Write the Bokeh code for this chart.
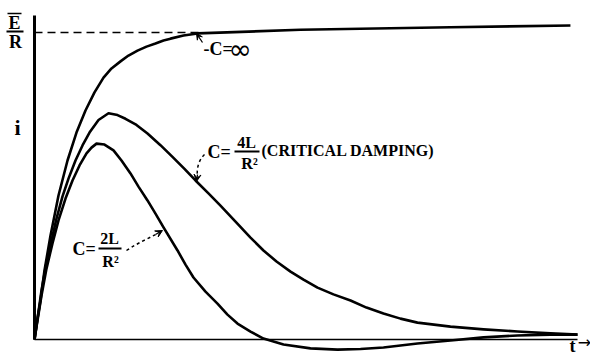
from bokeh.plotting import figure
from bokeh.models import Label, Arrow, VeeHead, Range1d
from bokeh.embed import file_html
from bokeh.resources import INLINE

# ---- data (t arbitrary units, i relative to E/R) ----
E_over_R = 1.0
t_max = 10.0

t_inf = [0, 0.055, 0.11, 0.184, 0.295, 0.442, 0.608, 0.773, 0.939, 1.105, 1.271, 1.418, 1.584,
         1.731, 1.897, 2.063, 2.228, 2.376, 2.505, 2.744, 3.002, 4.90, 7.66, 9.87]
i_inf = [0, 0.068, 0.127, 0.225, 0.339, 0.469, 0.583, 0.674, 0.746, 0.805, 0.853, 0.883, 0.906,
         0.925, 0.941, 0.954, 0.964, 0.974, 0.980, 0.990, 0.997, 1.009, 1.017, 1.023]

t_crit = [0, 0.055, 0.129, 0.221, 0.313, 0.405, 0.516, 0.626, 0.755, 0.884, 1.013, 1.179, 1.363,
          1.529, 1.676, 1.878, 2.081, 2.320, 2.541, 2.762, 2.965, 3.204, 3.425, 3.702, 3.978,
          4.217, 4.457, 4.715, 4.954, 5.212, 5.506, 5.820, 6.114, 6.427, 6.740, 7.053, 7.661,
          8.269, 8.895, 9.503, 10.0]
i_crit = [0, 0.068, 0.160, 0.251, 0.322, 0.394, 0.466, 0.524, 0.583, 0.632, 0.674, 0.715, 0.737,
          0.731, 0.719, 0.699, 0.671, 0.633, 0.595, 0.556, 0.518, 0.476, 0.436, 0.384, 0.332,
          0.290, 0.254, 0.221, 0.195, 0.169, 0.147, 0.127, 0.104, 0.085, 0.068, 0.055, 0.042,
          0.033, 0.026, 0.020, 0.016]

t_2l = [0, 0.055, 0.129, 0.221, 0.331, 0.442, 0.571, 0.700, 0.829, 0.958, 1.050, 1.142, 1.289,
        1.455, 1.602, 1.768, 1.915, 2.081, 2.228, 2.376, 2.634, 2.781, 2.928, 3.149, 3.370,
        3.554, 3.738, 3.978, 4.217, 4.586, 5.083, 5.580, 6.004, 6.427, 7.053, 7.661, 8.269,
        8.895, 9.503, 10.0]
i_2l = [0, 0.062, 0.143, 0.231, 0.313, 0.388, 0.459, 0.518, 0.567, 0.606, 0.625, 0.638, 0.635,
        0.616, 0.583, 0.541, 0.498, 0.453, 0.410, 0.365, 0.290, 0.244, 0.202, 0.156, 0.117,
        0.081, 0.052, 0.026, 0.003, -0.016, -0.029, -0.033, -0.031, -0.026, -0.013, -0.003, 0.007,
        0.013, 0.016, 0.016]

# ---- layout helpers: image pixel -> data ----
W, H = 590, 354
X0, SX = 34.0, 54.3
Y0, SY = 339.0, 307.0
def tx(px):
    return (px - X0) / SX
def iy(py):
    return (Y0 - py) / SY

FONT = "Liberation Sans Narrow"

p = figure(width=W, height=H, output_backend="svg", toolbar_location=None,
           x_range=Range1d(tx(0), tx(W)), y_range=Range1d(iy(H), iy(0)),
           x_axis_type=None, y_axis_type=None, min_border=0,
           background_fill_color="white", border_fill_color="white")
p.grid.visible = False
p.outline_line_color = None

# axes
p.line([0, 0], [0, iy(15)], line_color="black", line_width=3)
p.line([0, t_max], [0, 0], line_color="black", line_width=1.5)
# asymptote E/R
p.line([0, tx(198)], [E_over_R, E_over_R], line_color="black", line_width=1.5, line_dash="8 5")

# curves
for tt, ii in [(t_inf, i_inf), (t_crit, i_crit), (t_2l, i_2l)]:
    p.line(tt, ii, line_color="black", line_width=2.6, line_join="round")

def lab(text, x, y, size, align="left", bold=True, font=FONT):
    p.add_layout(Label(x=tx(x), y=iy(y), text=text, text_font=font,
                       text_font_size=f"{size}px", text_font_style="bold" if bold else "normal",
                       text_align=align, text_baseline="middle", text_color="black"))

def seg(x0, y0, x1, y1, w=1.5, dash="solid"):
    p.segment(tx(x0), iy(y0), tx(x1), iy(y1), line_color="black", line_width=w, line_dash=dash)

def head(x0, y0, x1, y1, size=7):
    p.add_layout(Arrow(end=VeeHead(size=size, fill_color="black", line_color="black", line_width=1),
                       x_start=tx(x0), y_start=iy(y0), x_end=tx(x1), y_end=iy(y1),
                       line_color="black", line_width=1.3))

# E/R
lab("E", 14, 22, 18, "center")
seg(7, 13, 21, 13, 1.5)
seg(6, 31, 23, 31, 2)
lab("R", 15, 41, 18, "center")
# i
lab("i", 17, 127, 22, "center")
# t ->
lab("t", 572, 345, 18, "center")
lab("→", 584, 342, 16, "center", bold=False, font="DejaVu Sans")

# C = infinity
lab("-C=", 203, 48, 18)
lab("∞", 228, 49, 28, bold=False, font="DejaVu Sans")
head(202, 42, 196, 33, 6)

# critical damping
lab("C=", 207, 151, 18)
lab("4L", 246, 142, 16, "center")
seg(234, 151, 259, 151, 1.8)
lab("R²", 249, 163, 16, "center")
lab("(CRITICAL DAMPING)", 261, 150, 16)
p.bezier(x0=[tx(204)], y0=[iy(154)], x1=[tx(197)], y1=[iy(176)],
         cx0=[tx(198)], cy0=[iy(160)], cx1=[tx(196)], cy1=[iy(168)],
         line_color="black", line_width=1.5, line_dash="3 3")
head(197, 174, 196, 181, 7)

# 2L/R^2
lab("C=", 72, 248, 18)
lab("2L", 109, 238, 16, "center")
seg(98, 248, 121, 248, 1.8)
lab("R²", 110, 261, 16, "center")
p.bezier(x0=[tx(126)], y0=[iy(250)], x1=[tx(157)], y1=[iy(233)],
         cx0=[tx(138)], cy0=[iy(242)], cx1=[tx(148)], cy1=[iy(238)],
         line_color="black", line_width=1.5, line_dash="3 3")
head(155, 234, 162, 230, 7)

open("out.html", "w").write(file_html(p, INLINE))
